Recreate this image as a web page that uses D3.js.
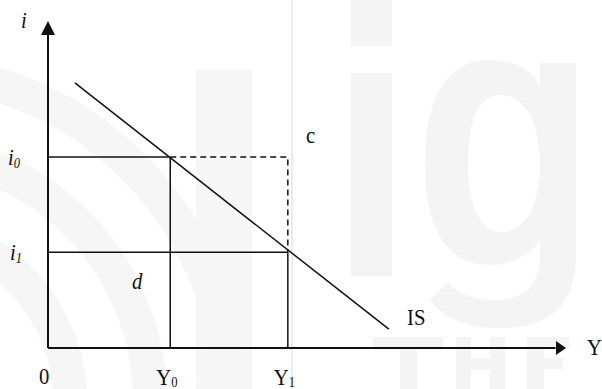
<!DOCTYPE html>
<html>
<head>
<meta charset="utf-8">
<script src="https://cdn.jsdelivr.net/npm/d3@7"></script>
<style>
  body { margin: 0; background: #fff; }
  svg { display: block; }
</style>
</head>
<body>
<div id="chart"></div>
<script>
// IS diagram values (axis units 0..100)
var incomeLabels = ["Y0", "Y1"];
var incomeValues = [23.6, 46.3];
var rateLabels = ["i0", "i1"];
var rateValues = [58.6, 29.4];
var isCurve = [{ Y: 5.2, i: 81.3 }, { Y: 65.8, i: 5.8 }];

var W = 602, H = 389;
var serif = "'Liberation Serif', 'Times New Roman', serif";

var svg = d3.select("#chart").append("svg")
  .attr("width", W)
  .attr("height", H);

// faint watermark in the background
var wm = svg.append("g").attr("fill", "#f4f4f4").attr("stroke", "none");
wm.append("rect").attr("x", 351).attr("y", 0).attr("width", 41).attr("height", 46);
wm.append("rect").attr("x", 351).attr("y", 73).attr("width", 41).attr("height", 203);
wm.append("path")
  .attr("fill-rule", "evenodd")
  .attr("d", "M490,60 C440,60 425,110 425,165 C425,225 445,265 490,265 C510,265 530,255 540,240 L540,255 C540,290 520,300 495,300 C470,300 455,292 448,282 L430,300 C445,320 470,328 500,328 C555,328 576,300 576,255 L576,63 L540,63 L540,85 C530,68 512,60 490,60 Z M500,95 C475,95 468,130 468,165 C468,200 478,232 502,232 C528,232 540,200 540,165 C540,128 528,95 500,95 Z");
wm.append("rect").attr("x", 196).attr("y", 70).attr("width", 56).attr("height", 319).attr("fill", "#f7f7f7");
wm.append("rect").attr("x", 291).attr("y", 0).attr("width", 2).attr("height", H).attr("fill", "#ececec");
// THE
wm.append("rect").attr("x", 373).attr("y", 337).attr("width", 70).attr("height", 13);
wm.append("rect").attr("x", 400).attr("y", 337).attr("width", 17).attr("height", 52);
wm.append("rect").attr("x", 456).attr("y", 337).attr("width", 15).attr("height", 52);
wm.append("rect").attr("x", 490).attr("y", 337).attr("width", 15).attr("height", 52);
wm.append("rect").attr("x", 456).attr("y", 358).attr("width", 49).attr("height", 12);
wm.append("rect").attr("x", 527).attr("y", 337).attr("width", 17).attr("height", 52);
wm.append("rect").attr("x", 527).attr("y", 337).attr("width", 42).attr("height", 12);
wm.append("rect").attr("x", 527).attr("y", 358).attr("width", 36).attr("height", 11);
// arcs on the left
[330, 250, 170].forEach(function (r) {
  wm.append("circle")
    .attr("cx", -100).attr("cy", 400).attr("r", r)
    .attr("fill", "none").attr("stroke", "#f6f6f6").attr("stroke-width", 34);
});

// scales
var x = d3.scaleLinear().domain([0, 100]).range([48, 566]);
var y = d3.scaleLinear().domain([0, 100]).range([348, 22]);

var g = svg.append("g");

// axes
g.append("line")
  .attr("x1", x(0)).attr("y1", y(0)).attr("x2", x(0)).attr("y2", y(96))
  .attr("stroke", "#111").attr("stroke-width", 2);
g.append("line")
  .attr("x1", x(0)).attr("y1", y(0)).attr("x2", x(98)).attr("y2", y(0))
  .attr("stroke", "#111").attr("stroke-width", 2);
g.append("path")
  .attr("d", "M" + x(0) + "," + (y(100) - 1) + " L" + (x(0) - 7) + "," + (y(100) + 13) + " L" + (x(0) + 7) + "," + (y(100) + 13) + " Z")
  .attr("fill", "#111");
g.append("path")
  .attr("d", "M" + x(100) + "," + y(0) + " L" + (x(100) - 10) + "," + (y(0) - 7) + " L" + (x(100) - 10) + "," + (y(0) + 7) + " Z")
  .attr("fill", "#111");

// horizontal guides i0, i1
g.selectAll(".hguide")
  .data(rateValues)
  .enter().append("line")
  .attr("class", "hguide")
  .attr("x1", x(0))
  .attr("x2", function (d, k) { return x(incomeValues[k]); })
  .attr("y1", function (d) { return y(d); })
  .attr("y2", function (d) { return y(d); })
  .attr("stroke", "#111").attr("stroke-width", 1.5);

// vertical guides Y0, Y1
g.selectAll(".vguide")
  .data(incomeValues)
  .enter().append("line")
  .attr("class", "vguide")
  .attr("x1", function (d) { return x(d); })
  .attr("x2", function (d) { return x(d); })
  .attr("y1", y(0))
  .attr("y2", function (d, k) { return y(rateValues[k]); })
  .attr("stroke", "#111").attr("stroke-width", 1.5);

// dashed path to point c
g.append("path")
  .attr("d", "M" + x(incomeValues[0]) + "," + y(rateValues[0]) +
    " L" + x(incomeValues[1]) + "," + y(rateValues[0]) +
    " L" + x(incomeValues[1]) + "," + y(rateValues[1]))
  .attr("fill", "none")
  .attr("stroke", "#111").attr("stroke-width", 1.5)
  .attr("stroke-dasharray", "6,4");

// IS line
var line = d3.line().x(function (d) { return x(d.Y); }).y(function (d) { return y(d.i); });
g.append("path")
  .datum(isCurve)
  .attr("d", line)
  .attr("fill", "none")
  .attr("stroke", "#111").attr("stroke-width", 1.5);

// labels (text is a bit narrow in the source, hence the x squeeze)
function label(px, py, main, sub, italic, subItalic, subDy) {
  var t = g.append("text")
    .attr("transform", "translate(" + px + "," + py + ") scale(0.9,1)")
    .attr("font-family", serif)
    .attr("fill", "#111")
    .attr("font-size", "23px");
  t.append("tspan").attr("font-style", italic ? "italic" : "normal").text(main);
  if (sub) {
    t.append("tspan")
      .attr("font-size", "14px")
      .attr("dy", subDy == null ? 3 : subDy)
      .attr("font-style", subItalic ? "italic" : "normal")
      .text(sub);
  }
  return t;
}

label(x(0) - 27, y(100) + 6, "i", null, true);
rateValues.forEach(function (v, k) {
  label(k === 0 ? 8 : 10, y(v) + 8, rateLabels[k].charAt(0), rateLabels[k].slice(1), true, true);
});
incomeValues.forEach(function (v, k) {
  label(x(v) - 14, 385, incomeLabels[k].charAt(0), incomeLabels[k].slice(1), false, false, 2);
});
label(x(0) - 9, 384, "0", null, false);
label(132, 289, "d", null, true);
label(306, 143, "c", null, false);
label(407, 325, "IS", null, false);
label(587, 355, "Y", null, false);
</script>
</body>
</html>
